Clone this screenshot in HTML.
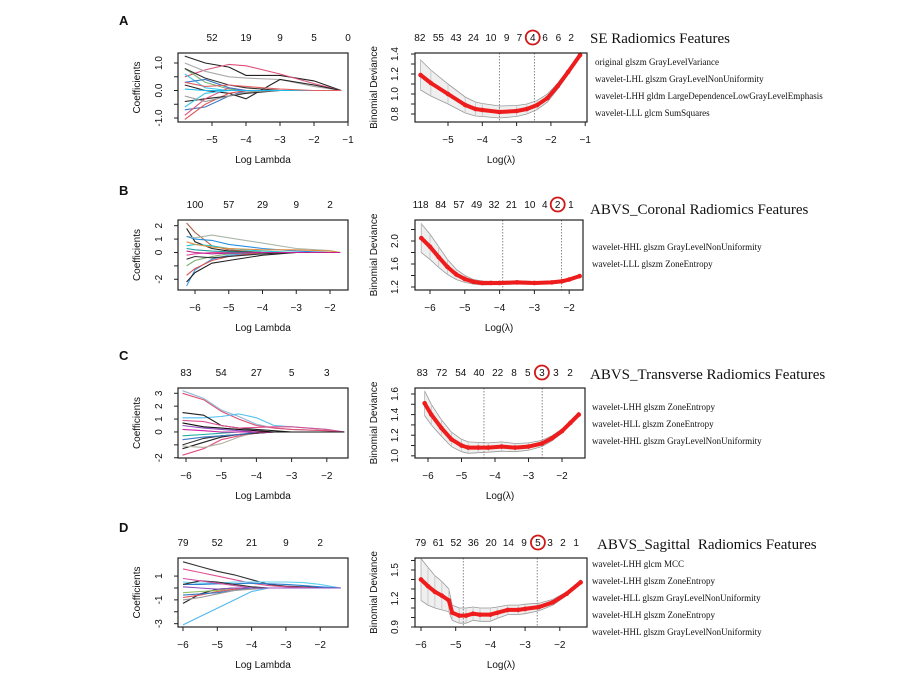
<!DOCTYPE html>
<html><head><meta charset="utf-8"><style>
html,body{margin:0;padding:0;background:#fff;}
svg{display:block;font-family:"Liberation Sans",Arial,sans-serif;}
.serif{font-family:"Liberation Serif","Times New Roman",serif;}
</style></head><body>
<svg id="fig" width="912" height="680" viewBox="0 0 912 680">
<g class="serif" fill="#111">
<text x="590" y="43" font-size="15">SE Radiomics Features</text>
<g font-size="9">
<text x="595" y="65">original glszm GrayLevelVariance</text>
<text x="595" y="82">wavelet-LHL glszm GrayLevelNonUniformity</text>
<text x="595" y="99">wavelet-LHH gldm LargeDependenceLowGrayLevelEmphasis</text>
<text x="595" y="116">wavelet-LLL glcm SumSquares</text>
</g>
<text x="590" y="214" font-size="15">ABVS_Coronal Radiomics Features</text>
<g font-size="9">
<text x="592" y="250">wavelet-HHL glszm GrayLevelNonUniformity</text>
<text x="592" y="267">wavelet-LLL glszm ZoneEntropy</text>
</g>
<text x="590" y="379" font-size="15">ABVS_Transverse Radiomics Features</text>
<g font-size="9">
<text x="592" y="410">wavelet-LHH glszm ZoneEntropy</text>
<text x="592" y="427">wavelet-HLL glszm ZoneEntropy</text>
<text x="592" y="444">wavelet-HHL glszm GrayLevelNonUniformity</text>
</g>
<text x="597" y="549" font-size="15" xml:space="preserve">ABVS_Sagittal  Radiomics Features</text>
<g font-size="9">
<text x="592" y="567">wavelet-LHH glcm MCC</text>
<text x="592" y="584">wavelet-LHH glszm ZoneEntropy</text>
<text x="592" y="601">wavelet-HLL glszm GrayLevelNonUniformity</text>
<text x="592" y="618">wavelet-HLH glszm ZoneEntropy</text>
<text x="592" y="635">wavelet-HHL glszm GrayLevelNonUniformity</text>
</g>
</g>
<g font-weight="bold" font-size="13" fill="#111">
<text x="119" y="25">A</text><text x="119" y="195">B</text><text x="119" y="360">C</text><text x="119" y="532">D</text>
</g>
</svg>
<script>
// ===== Panel A data =====
const aCoefGrid=[-5.8,-5.2,-4.5,-4,-3,-2,-1.2];
const aCoefPaths=[[1.25,1.0,0.85,0.55,0.55,0.35,0],[0.5,0.75,0.95,0.9,0.6,0.25,0],[1.0,0.7,0.5,0.45,0.4,0.15,0],[0.2,0.0,-0.1,-0.3,0.4,0.2,0],[0.6,0.1,0,0,0,0,0],[-0.7,-0.6,-0.2,0,0,0,0],[-1.05,-0.5,-0.1,0,0,0,0],[0.8,0.3,0.05,0,0,0,0],[-0.4,-0.3,-0.2,-0.1,0,0,0],[-0.9,-0.3,0.1,0,0,0,0],[-0.6,-0.1,0,0,0,0,0],[0.3,0.4,0.1,0,0,0,0],[-0.2,-0.4,-0.2,-0.05,0,0,0],[0.8,0.45,0.2,0.1,0,0,0],[0.05,0,0,0,0,0,0],[0.3,0.15,0.2,0.15,0.05,0,0]];
const aCoefColors=["#222","#e0507a","#aaa","#222","#3cc8f0","#3a78c8","#e05050","#7ab070","#222","#e0507a","#3cc8f0","#3a78c8","#999","#333","#20b8e8","#e06060"];
const aLeftCounts=["52","19","9","5","0"];
const aLeftCountAt=[-5,-4,-3,-2,-1];
const aCvLambda=[-5.8,-5.5,-5,-4.5,-4.2,-4,-3.5,-3,-2.7,-2.4,-2.1,-1.8,-1.5,-1.15];
const aCvDev=[1.19,1.11,1.0,0.89,0.85,0.84,0.82,0.83,0.85,0.89,0.96,1.08,1.22,1.39];
const aCvSe=[0.15,0.13,0.1,0.08,0.07,0.065,0.06,0.055,0.05,0.045,0.04,0.03,0.025,0.02];
const aRightCounts=["82","55","43","24","10","9","7","4","6","6","2"];
const aRightCountAt=[-5.82,-5.28,-4.77,-4.26,-3.75,-3.29,-2.92,-2.53,-2.17,-1.78,-1.41];
const aVlines=[-3.5,-2.48];
// ===== Panel B data =====
const bCoefGrid=[-6.25,-6,-5.5,-5,-4,-3,-2,-1.7];
const bCoefPaths=[[2.2,1.5,0.5,0.2,0,0,0,0],[1.8,0.8,0.3,0.1,0,0,0,0],[1.2,1.1,1.3,1.1,0.7,0.3,0.15,0],[1.2,1.0,0.9,0.6,0.3,0.1,0,0],[-2.5,-1.3,-0.5,-0.2,0,0,0,0],[-2.2,-1.5,-0.8,-0.6,-0.2,0,0,0],[-1.7,-1.2,-0.6,-0.3,0,0,0,0],[0.5,0.6,0.5,0.3,0.1,0,0,0],[-0.2,-0.1,0,0,0,0,0,0],[-1.0,-0.6,-0.3,-0.1,0,0,0,0],[0.8,0.6,0.4,0.3,0.2,0.2,0.1,0],[-0.5,-0.3,-0.4,-0.3,-0.1,0,0,0],[0.3,0.2,0.1,0.05,0,0,0,0],[0.1,0,-0.1,-0.05,0,0,0,0]];
const bCoefColors=["#b06040","#222","#a8b8a8","#2a90e0","#3aa0e8","#222","#e05050","#20c8d8","#e050a0","#7ab070","#e09040","#333","#20a0a0","#c02090"];
const bLeftCounts=["100","57","29","9","2"];
const bLeftCountAt=[-6,-5,-4,-3,-2];
const bCvLambda=[-6.25,-6,-5.75,-5.5,-5.25,-5,-4.75,-4.5,-4.25,-4,-3.5,-3,-2.5,-2.2,-2,-1.7];
const bCvDev=[2.05,1.9,1.72,1.55,1.42,1.34,1.29,1.27,1.27,1.27,1.28,1.27,1.28,1.30,1.33,1.39];
const bCvSe=[0.25,0.22,0.18,0.13,0.09,0.06,0.04,0.035,0.03,0.03,0.03,0.025,0.025,0.025,0.025,0.025];
const bRightCounts=["118","84","57","49","32","21","10","4","2","1"];
const bRightCountAt=[-6.27,-5.69,-5.17,-4.66,-4.16,-3.66,-3.13,-2.70,-2.33,-1.95];
const bVlines=[-3.91,-2.22];
// ===== Panel C data =====
const cCoefGrid=[-6.1,-5.5,-5,-4.5,-4,-3.5,-3,-2,-1.5];
const cCoefPaths=[[3.2,2.6,1.7,1.2,0.6,0.3,0.2,0.1,0],[3.0,2.5,1.6,1.0,0.5,0.3,0.2,0.1,0],[1.1,1.1,1.2,1.4,1.1,0.5,0.4,0.2,0],[1.5,1.3,0.5,0.3,0.2,0.1,0,0,0],[0.9,0.8,0.5,0.3,0.35,0.4,0.4,0.2,0],[-1.3,-0.8,-0.4,-0.2,-0.1,0,0,0,0],[-1.8,-1.3,-0.6,-0.3,-0.1,0,0,0,0],[-1.1,-1.2,-0.9,-0.4,0,0,0,0,0],[-1.0,-0.5,-0.3,-0.2,-0.1,0,0,0,0],[0.5,0.3,0.2,0.1,0,0,0,0,0],[-0.3,-0.2,-0.1,0,0,0,0,0,0],[-0.6,-0.4,-0.3,-0.2,0,0,0,0,0],[0.2,0.1,0,0,0,0,0,0,0],[0.7,0.4,0.3,0.2,0.1,0,0,0,0]];
const cCoefColors=["#90b8d8","#e05070","#50c0f0","#222","#e05090","#222","#e05080","#b0b0a0","#333","#9050c0","#20b0a0","#3a78c8","#d020a0","#111"];
const cLeftCounts=["83","54","27","5","3"];
const cLeftCountAt=[-6,-5,-4,-3,-2];
const cCvLambda=[-6.1,-5.9,-5.6,-5.3,-5,-4.8,-4.5,-4.2,-3.8,-3.4,-3,-2.6,-2.3,-2,-1.75,-1.5];
const cCvDev=[1.51,1.40,1.27,1.16,1.10,1.08,1.08,1.08,1.09,1.08,1.09,1.12,1.17,1.24,1.32,1.40];
const cCvSe=[0.12,0.1,0.08,0.07,0.06,0.055,0.05,0.045,0.045,0.04,0.035,0.03,0.025,0.02,0.02,0.02];
const cRightCounts=["83","72","54","40","22","8","5","3","3","2"];
const cRightCountAt=[-6.17,-5.59,-5.02,-4.48,-3.92,-3.43,-3.02,-2.60,-2.18,-1.76];
const cVlines=[-4.33,-2.59];
// ===== Panel D data =====
const dCoefGrid=[-6,-5.5,-5,-4.5,-4,-3.5,-3,-2.5,-2,-1.4];
const dCoefPaths=[[2.2,1.8,1.4,1.1,0.7,0.3,0.15,0.1,0.05,0],[1.6,1.3,1.0,0.7,0.4,0.2,0.1,0.05,0,0],[-3.1,-2.4,-1.7,-1.0,-0.3,0,0,0,0,0],[0.5,0.4,0.4,0.5,0.5,0.5,0.5,0.45,0.3,0],[0.3,0.3,0.35,0.35,0.4,0.35,0.3,0.2,0.1,0],[-1.3,-0.5,-0.1,0,0,0,0,0,0,0],[0.3,0.6,0.5,0.3,0.1,0,0,0,0,0],[-0.8,-0.6,-0.3,-0.1,0,0,0,0,0,0],[-0.4,-0.3,-0.2,0,0,0,0,0,0,0],[0.8,0.6,0.4,0.2,0,0,0,0,0,0],[-0.6,-0.5,-0.4,-0.2,0,0,0,0,0,0],[-1.0,-0.8,-0.5,-0.2,-0.1,0,0,0,0,0],[0.1,0,-0.1,0,0,0,0,0,0,0]];
const dCoefColors=["#333","#e05090","#50b8f0","#60d0f0","#2a80d0","#222","#333","#e05050","#90c060","#d050a0","#3a78c8","#999","#9050c0"];
const dLeftCounts=["79","52","21","9","2"];
const dLeftCountAt=[-6,-5,-4,-3,-2];
const dCvLambda=[-6,-5.8,-5.6,-5.4,-5.2,-5.1,-4.9,-4.7,-4.5,-4.3,-4,-3.8,-3.5,-3.2,-3,-2.6,-2.2,-1.8,-1.4];
const dCvDev=[1.40,1.33,1.27,1.23,1.18,1.05,1.02,1.02,1.04,1.03,1.03,1.05,1.08,1.08,1.09,1.11,1.16,1.25,1.37];
const dCvSe=[0.22,0.2,0.17,0.15,0.12,0.08,0.08,0.08,0.07,0.07,0.07,0.06,0.05,0.05,0.05,0.04,0.03,0.02,0.02];
const dRightCounts=["79","61","52","36","20","14","9","5","3","2","1"];
const dRightCountAt=[-6.01,-5.50,-4.99,-4.49,-3.98,-3.48,-3.03,-2.63,-2.28,-1.91,-1.53];
const dVlines=[-4.78,-2.65];

const NS="http://www.w3.org/2000/svg";
const svg=document.getElementById('fig');
function el(tag,attrs,parent,txt){const e=document.createElementNS(NS,tag);for(const k in attrs)e.setAttribute(k,attrs[k]);if(txt!==undefined)e.textContent=txt;(parent||svg).appendChild(e);return e;}
function lin(d0,d1,r0,r1){return v=>r0+(v-d0)*(r1-r0)/(d1-d0);}

function axesFrame(g,box,sx,sy,xt,yt,ylabels,xlab,ylab,ylabX,ytickX){
  const r=el('rect',{x:box.x0,y:box.y0,width:box.x1-box.x0,height:box.y1-box.y0,fill:'none',stroke:'#222','stroke-width':1.2},g);
  
  
  xt.forEach(v=>{const x=sx(v);
    el('line',{x1:x,x2:x,y1:box.y1,y2:box.y1+4,stroke:'#222'},g);
    const t=el('text',{x:x,y:box.y1+21,'font-size':10,'text-anchor':'middle',fill:'#111'},g,(v<0?'\u2212':'')+Math.abs(v));
    
    
  });
  yt.forEach((v,i)=>{const y=sy(v);
    el('line',{x1:box.x0-4,x2:box.x0,y1:y,y2:y,stroke:'#222'},g);
    if(ylabels[i]!==''){const t=el('text',{x:ytickX,y:y,'font-size':10,'text-anchor':'middle',fill:'#111',transform:`rotate(-90 ${ytickX} ${y})`},g,ylabels[i]);
      
      }
  });
  const xl=el('text',{x:(box.x0+box.x1)/2,y:box.y1+41,'font-size':10,'text-anchor':'middle',fill:'#111'},g,xlab);
  
  
  const cy=(box.y0+box.y1)/2;
  const yl=el('text',{x:ylabX,y:cy,'font-size':10,'text-anchor':'middle',fill:'#111',transform:`rotate(-90 ${ylabX} ${cy})`},g,ylab);
  
  
}

function coefPlot(name,box,xd,yd,xt,yt,ylabels,grid,paths,colors,counts,countAt){
  const g=el('g',{},svg);
  
  
  const sx=lin(xd[0],xd[1],box.x0,box.x1), sy=lin(yd[0],yd[1],box.y1,box.y0);
  paths.forEach((p,i)=>{
    const d=p.map((v,j)=>(j?'L':'M')+sx(grid[j]).toFixed(1)+','+sy(v).toFixed(1)).join('');
    const pe=el('path',{d:d,fill:'none',stroke:colors[i%colors.length],'stroke-width':1.1},g);
    
    
  });
  counts.forEach((c,i)=>{const t=el('text',{x:sx(countAt[i]),y:box.y0-12,'font-size':10,'text-anchor':'middle',fill:'#111'},g,c);
    
    });
  axesFrame(g,box,sx,sy,xt,yt,ylabels,'Log Lambda','Coefficients',box.x0-38,box.x0-16);
}

function cvPlot(name,box,xd,yd,xt,yt,ylabels,lam,dev,se,counts,countAt,circleIdx,vlines){
  const g=el('g',{},svg);
  
  
  const sx=lin(xd[0],xd[1],box.x0,box.x1), sy=lin(yd[0],yd[1],box.y1,box.y0);
  let band='M'+lam.map((l,i)=>sx(l).toFixed(1)+','+sy(dev[i]+se[i]).toFixed(1)).join('L');
  for(let i=lam.length-1;i>=0;i--)band+='L'+sx(lam[i]).toFixed(1)+','+sy(dev[i]-se[i]).toFixed(1);
  const b=el('path',{d:band+'Z',fill:'#efefef',stroke:'#999','stroke-width':0.8},g);
  
  
  lam.forEach((l,i)=>{el('line',{x1:sx(l),x2:sx(l),y1:sy(dev[i]+se[i]),y2:sy(dev[i]-se[i]),stroke:'#c4c4c4','stroke-width':0.8},g);});
  vlines.forEach(v=>{const ln=el('line',{x1:sx(v),x2:sx(v),y1:box.y0,y2:box.y1,stroke:'#888','stroke-dasharray':'1.5,1.5','stroke-width':1},g);
    
    });
  const d=lam.map((l,i)=>(i?'L':'M')+sx(l).toFixed(1)+','+sy(dev[i]).toFixed(1)).join('');
  const rp=el('path',{d:d,fill:'none',stroke:'#ee1c1c','stroke-width':4,'stroke-linejoin':'round','stroke-linecap':'round'},g);
  
  
  lam.forEach((l,i)=>{const c=el('circle',{cx:sx(l),cy:sy(dev[i]),r:2.3,fill:'#ee1c1c'},g);
    
    });
  counts.forEach((c,i)=>{const x=sx(countAt[i]);
    const t=el('text',{x:x,y:box.y0-12,'font-size':10,'text-anchor':'middle',fill:'#111'},g,c);
    
    
    if(i===circleIdx){const ci=el('circle',{cx:x,cy:box.y0-15.5,r:7,fill:'none',stroke:'#d01818','stroke-width':1.8},g);
      
      }
  });
  axesFrame(g,box,sx,sy,xt,yt,ylabels,'Log(\u03bb)','Binomial Deviance',box.x0-38,box.x0-17);
}

coefPlot('coef-plot-a',{x0:178,x1:348,y0:53,y1:122},[-6,-1],[-1.145,1.364],[-5,-4,-3,-2,-1],[-1,-0.5,0,0.5,1],['-1.0','','0.0','','1.0'],aCoefGrid,aCoefPaths,aCoefColors,aLeftCounts,aLeftCountAt);
cvPlot('cv-plot-a',{x0:415,x1:587,y0:53,y1:122},[-5.962,-0.948],[0.72,1.41],[-5,-4,-3,-2,-1],[0.8,0.9,1.0,1.1,1.2,1.3,1.4],['0.8','','1.0','','1.2','','1.4'],aCvLambda,aCvDev,aCvSe,aRightCounts,aRightCountAt,7,aVlines);
coefPlot('coef-plot-b',{x0:178,x1:348,y0:220,y1:290},[-6.504,-1.467],[-2.8,2.425],[-6,-5,-4,-3,-2],[-2,-1,0,1,2],['-2','','0','1','2'],bCoefGrid,bCoefPaths,bCoefColors,bLeftCounts,bLeftCountAt);
cvPlot('cv-plot-b',{x0:415,x1:583,y0:220,y1:290},[-6.431,-1.603],[1.148,2.365],[-6,-5,-4,-3,-2],[1.2,1.4,1.6,1.8,2.0,2.2],['1.2','','1.6','','2.0',''],bCvLambda,bCvDev,bCvSe,bRightCounts,bRightCountAt,8,bVlines);
coefPlot('coef-plot-c',{x0:178,x1:348,y0:388,y1:458},[-6.227,-1.398],[-2.02,3.41],[-6,-5,-4,-3,-2],[-2,-1,0,1,2,3],['-2','','0','1','2','3'],cCoefGrid,cCoefPaths,cCoefColors,cLeftCounts,cLeftCountAt);
cvPlot('cv-plot-c',{x0:415,x1:585,y0:388,y1:458},[-6.388,-1.313],[0.979,1.658],[-6,-5,-4,-3,-2],[1.0,1.1,1.2,1.3,1.4,1.5,1.6],['1.0','','1.2','','1.4','','1.6'],cCvLambda,cCvDev,cCvSe,cRightCounts,cRightCountAt,7,cVlines);
coefPlot('coef-plot-d',{x0:178,x1:348,y0:558,y1:627},[-6.146,-1.19],[-3.28,2.52],[-6,-5,-4,-3,-2],[-3,-2,-1,0,1],['-3','','-1','','1'],dCoefGrid,dCoefPaths,dCoefColors,dLeftCounts,dLeftCountAt);
cvPlot('cv-plot-d',{x0:415,x1:587,y0:558,y1:627},[-6.173,-1.216],[0.9,1.626],[-6,-5,-4,-3,-2],[0.9,1.0,1.1,1.2,1.3,1.4,1.5,1.6],['0.9','','','1.2','','','1.5',''],dCvLambda,dCvDev,dCvSe,dRightCounts,dRightCountAt,7,dVlines);
</script>
</body></html>
